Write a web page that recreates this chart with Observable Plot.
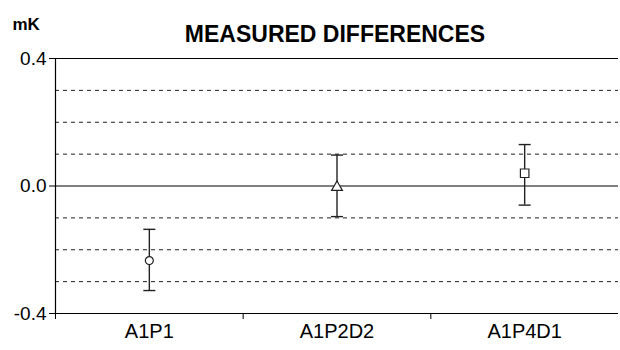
<!DOCTYPE html>
<html><head><meta charset="utf-8">
<script src="https://cdn.jsdelivr.net/npm/d3@7"></script>
<script src="https://cdn.jsdelivr.net/npm/@observablehq/plot@0.6"></script>
<style>body{margin:0;background:#fff;}</style>
</head><body><div id="chart"></div>
<script>
const categories = ["A1P1", "A1P2D2", "A1P4D1"];
const means = [-0.234, -0.004, 0.040];
const lows = [-0.328, -0.096, -0.060];
const highs = [-0.136, 0.097, 0.130];
const markers = ["circle", "triangle", "square"];
const yTicks = [-0.4, 0.0, 0.4];
const gridValues = [-0.3, -0.2, -0.1, 0.1, 0.2, 0.3];
const title = "MEASURED DIFFERENCES";
const unit = "mK";

const data = categories.map((c, i) => ({i, cat: c, mean: means[i], lo: lows[i], hi: highs[i], marker: markers[i]}));
const markerR = {circle: 4, triangle: 4, square: 4.8};
const cap = {draw(ctx) { ctx.moveTo(-6, 0); ctx.lineTo(6, 0); }};
const font = "'Liberation Sans', Arial, sans-serif";

const chart = Plot.plot({
  width: 620, height: 350,
  marginTop: 58, marginBottom: 37, marginLeft: 55, marginRight: 2,
  style: {fontFamily: font, fontSize: "16px", color: "#000", background: "#fff", overflow: "visible"},
  x: {domain: [-0.5, categories.length - 0.5], axis: null},
  y: {domain: [-0.4, 0.4], axis: null},
  symbol: {type: "identity"},
  r: {type: "identity"},
  marks: [
    Plot.ruleY(gridValues, {stroke: "#222", strokeDasharray: "4,4", strokeWidth: 1}),
    Plot.ruleY([0], {stroke: "#7f7f7f", strokeWidth: 1.8}),
    Plot.ruleY([0.4, -0.4], {stroke: "#000", strokeWidth: 1.2}),
    Plot.ruleX([-0.5], {stroke: "#000", strokeWidth: 1.2}),
    Plot.axisY({ticks: yTicks, tickFormat: d => d.toFixed(1), tickSize: 6, tickPadding: 3, label: null, fontSize: 19}),
    Plot.axisX({ticks: categories.map((c, i) => i - 0.5), tickFormat: () => "", tickSize: 6, label: null}),
    Plot.axisX({ticks: categories.map((c, i) => i), tickFormat: i => categories[i], tickSize: 0, tickPadding: 10, label: null, fontSize: 20}),
    Plot.ruleX(data, {x: "i", y1: "lo", y2: "hi", stroke: "#222", strokeWidth: 1.4}),
    Plot.dot(data, {x: "i", y: "hi", symbol: () => cap, stroke: "#222", strokeWidth: 1.4}),
    Plot.dot(data, {x: "i", y: "lo", symbol: () => cap, stroke: "#222", strokeWidth: 1.4}),
    Plot.dot(data, {x: "i", y: "mean", symbol: "marker", r: d => markerR[d.marker], fill: "#fff", stroke: "#222", strokeWidth: 1.2}),
    Plot.text([title], {frameAnchor: "top", dx: -2, dy: -33, fontWeight: "bold", fontSize: 23, fill: "#000"}),
    Plot.text([unit], {frameAnchor: "top-left", dx: -43, dy: -41, textAnchor: "start", fontWeight: "bold", fontSize: 17, fill: "#000"})
  ]
});
document.getElementById("chart").append(chart);
</script>
</body></html>
